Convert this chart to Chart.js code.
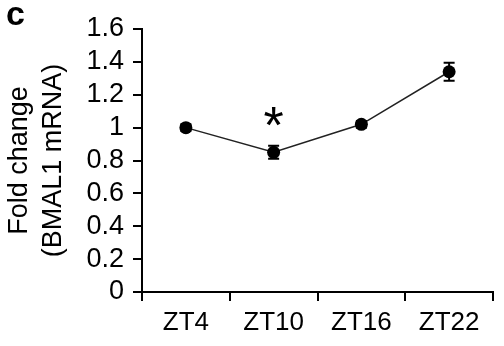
<!DOCTYPE html>
<html>
<head>
<meta charset="utf-8">
<script src="https://cdn.jsdelivr.net/npm/chart.js@4/dist/chart.umd.min.js"></script>
<style>
  html, body { margin: 0; padding: 0; background: #fff; }
  #wrap { position: relative; width: 504px; height: 346px; }
</style>
</head>
<body>
<div id="wrap"><canvas id="foldChart"></canvas></div>
<script>
// ---- Data ----
const timepoints = ['ZT4', 'ZT10', 'ZT16', 'ZT22'];
const foldChange = [1.0, 0.85, 1.02, 1.34];
const foldError  = [0.02, 0.04, 0.02, 0.055];
const significant = [false, true, false, false];

const FONT = "'Liberation Sans', Arial, Helvetica, sans-serif";
const INK  = '#000';

// ---- Error bars + significance star ----
const errorBars = {
  id: 'errorBars',
  afterDatasetsDraw(chart) {
    const { ctx, scales: { x, y } } = chart;
    ctx.save();
    ctx.strokeStyle = INK;
    ctx.lineWidth = 2;
    foldChange.forEach((v, i) => {
      const px = x.getPixelForValue(i);
      const top = y.getPixelForValue(v + foldError[i]);
      const bot = y.getPixelForValue(v - foldError[i]);
      ctx.beginPath();
      ctx.moveTo(px, top); ctx.lineTo(px, bot);
      ctx.moveTo(px - 5.5, top); ctx.lineTo(px + 5.5, top);
      ctx.moveTo(px - 5.5, bot); ctx.lineTo(px + 5.5, bot);
      ctx.stroke();
      if (significant[i]) {
        ctx.fillStyle = INK;
        ctx.font = `52px ${FONT}`;
        ctx.textAlign = 'center';
        ctx.textBaseline = 'middle';
        ctx.fillText('*', px, y.getPixelForValue(v + foldError[i] + 0.19) + 14);
      }
    });
    // panel letter
    ctx.fillStyle = INK;
    ctx.font = `bold 34px ${FONT}`;
    ctx.textAlign = 'left';
    ctx.textBaseline = 'alphabetic';
    ctx.fillText('c', 6, 25);
    ctx.restore();
  }
};

new Chart(document.getElementById('foldChart'), {
  type: 'line',
  data: {
    labels: timepoints,
    datasets: [{
      data: foldChange,
      borderColor: '#222',
      borderWidth: 1.5,
      tension: 0,
      fill: false,
      pointRadius: 6.5,
      pointBackgroundColor: INK,
      pointBorderColor: INK,
      pointBorderWidth: 0
    }]
  },
  options: {
    responsive: true,
    maintainAspectRatio: false,
    animation: false,
    layout: { padding: { top: 29, right: 11, left: 0, bottom: 0 } },
    plugins: { legend: { display: false }, tooltip: { enabled: false } },
    scales: {
      x: {
        offset: true,
        grid: {
          offset: true, drawOnChartArea: false, drawTicks: true,
          tickLength: 9, color: INK, lineWidth: 2
        },
        border: { color: INK, width: 2 },
        ticks: { color: INK, padding: 6, font: { size: 26, family: FONT } },
        afterFit: (s) => { s.height = 54; }
      },
      y: {
        min: 0,
        max: 1.6,
        ticks: {
          stepSize: 0.2,
          autoSkip: false,
          color: INK,
          padding: 9,
          font: { size: 27, family: FONT },
          callback: (v) => String(Math.round(v * 10) / 10)
        },
        grid: {
          drawOnChartArea: false, drawTicks: true,
          tickLength: 9, color: INK, lineWidth: 2
        },
        border: { color: INK, width: 2 },
        title: {
          display: true,
          text: ['Fold change', '(BMAL1 mRNA)'],
          color: INK,
          font: { size: 27, family: FONT, lineHeight: 1.25 },
          padding: { top: 3, bottom: 0 }
        },
        afterFit: (s) => { s.width = 142; }
      }
    }
  },
  plugins: [errorBars]
});
</script>
</body>
</html>
